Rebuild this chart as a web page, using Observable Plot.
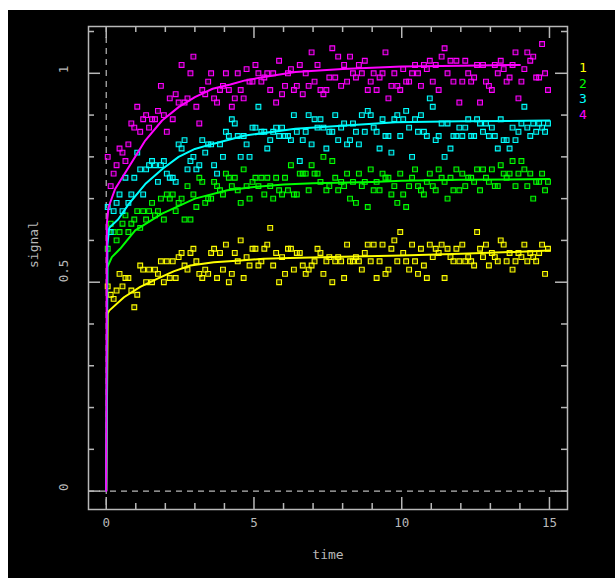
<!DOCTYPE html>
<html><head><meta charset="utf-8">
<script src="https://cdn.jsdelivr.net/npm/d3@7"></script>
<script src="https://cdn.jsdelivr.net/npm/@observablehq/plot@0.6"></script>
<style>
html,body{margin:0;padding:0;background:#fff;}
#wrap{position:absolute;left:8px;top:10px;width:607px;height:568px;background:#000;}
#wrap svg{display:block;}
.lg{position:absolute;left:571px;font-family:"DejaVu Sans Mono",monospace;font-size:13px;line-height:13px;}
</style></head><body>
<div id="wrap"></div>
<script>
const time = [
0.05,0.15,0.25,0.35,0.45,0.55,0.65,0.75,0.85,0.95,
1.05,1.15,1.25,1.35,1.45,1.55,1.65,1.75,1.85,1.95,
2.05,2.15,2.25,2.35,2.45,2.55,2.65,2.75,2.85,2.95,
3.05,3.15,3.25,3.35,3.45,3.55,3.65,3.75,3.85,3.95,
4.05,4.15,4.25,4.35,4.45,4.55,4.65,4.75,4.85,4.95,
5.05,5.15,5.25,5.35,5.45,5.55,5.65,5.75,5.85,5.95,
6.05,6.15,6.25,6.35,6.45,6.55,6.65,6.75,6.85,6.95,
7.05,7.15,7.25,7.35,7.45,7.55,7.65,7.75,7.85,7.95,
8.05,8.15,8.25,8.35,8.45,8.55,8.65,8.75,8.85,8.95,
9.05,9.15,9.25,9.35,9.45,9.55,9.65,9.75,9.85,9.95,
10.05,10.15,10.25,10.35,10.45,10.55,10.65,10.75,10.85,10.95,
11.05,11.15,11.25,11.35,11.45,11.55,11.65,11.75,11.85,11.95,
12.05,12.15,12.25,12.35,12.45,12.55,12.65,12.75,12.85,12.95,
13.05,13.15,13.25,13.35,13.45,13.55,13.65,13.75,13.85,13.95,
14.05,14.15,14.25,14.35,14.45,14.55,14.65,14.75,14.85,14.95];

const signal1 = [
0.49,0.47,0.46,0.48,0.52,0.49,0.51,0.51,0.48,0.44,
0.47,0.54,0.53,0.50,0.53,0.50,0.53,0.52,0.55,0.50,
0.55,0.51,0.55,0.51,0.56,0.57,0.54,0.53,0.57,0.58,
0.55,0.52,0.51,0.53,0.52,0.57,0.58,0.51,0.57,0.53,
0.59,0.50,0.52,0.57,0.55,0.60,0.51,0.56,0.54,0.58,
0.58,0.54,0.55,0.58,0.59,0.63,0.54,0.57,0.50,0.56,
0.52,0.58,0.58,0.53,0.57,0.57,0.54,0.52,0.53,0.54,
0.55,0.58,0.57,0.52,0.55,0.56,0.50,0.55,0.56,0.55,
0.51,0.59,0.55,0.55,0.56,0.55,0.53,0.57,0.59,0.55,
0.59,0.51,0.55,0.59,0.52,0.53,0.58,0.60,0.55,0.62,
0.57,0.55,0.53,0.59,0.55,0.52,0.58,0.54,0.51,0.59,
0.56,0.58,0.57,0.59,0.51,0.58,0.56,0.55,0.58,0.55,
0.59,0.55,0.56,0.55,0.54,0.62,0.58,0.56,0.59,0.54,
0.57,0.56,0.55,0.60,0.59,0.55,0.57,0.53,0.55,0.57,
0.56,0.59,0.55,0.57,0.56,0.55,0.57,0.59,0.52,0.58];

const signal2 = [
0.58,0.64,0.62,0.60,0.62,0.64,0.66,0.62,0.64,0.65,
0.67,0.63,0.67,0.65,0.67,0.69,0.66,0.67,0.70,0.65,
0.71,0.70,0.71,0.67,0.69,0.70,0.65,0.73,0.65,0.71,
0.68,0.75,0.74,0.69,0.70,0.70,0.74,0.73,0.72,0.71,
0.76,0.75,0.73,0.75,0.72,0.69,0.77,0.73,0.70,0.74,
0.75,0.73,0.75,0.71,0.75,0.73,0.70,0.75,0.72,0.71,
0.75,0.72,0.78,0.71,0.71,0.76,0.76,0.76,0.72,0.78,
0.76,0.76,0.74,0.80,0.72,0.73,0.79,0.75,0.72,0.74,
0.73,0.76,0.70,0.74,0.69,0.76,0.73,0.74,0.68,0.77,
0.72,0.74,0.72,0.76,0.75,0.75,0.71,0.73,0.69,0.76,
0.71,0.68,0.73,0.75,0.77,0.73,0.72,0.71,0.74,0.76,
0.73,0.72,0.77,0.75,0.74,0.70,0.75,0.72,0.77,0.72,
0.76,0.73,0.75,0.75,0.74,0.77,0.72,0.77,0.75,0.74,
0.77,0.73,0.73,0.78,0.76,0.75,0.76,0.79,0.73,0.76,
0.79,0.77,0.73,0.76,0.70,0.74,0.74,0.76,0.72,0.74];

const signal3 = [
0.68,0.62,0.67,0.69,0.71,0.67,0.75,0.69,0.71,0.75,
0.81,0.77,0.71,0.77,0.78,0.79,0.78,0.74,0.78,0.79,
0.76,0.75,0.75,0.74,0.83,0.82,0.84,0.77,0.79,0.80,
0.77,0.78,0.84,0.81,0.83,0.83,0.78,0.76,0.83,0.80,
0.86,0.85,0.89,0.88,0.85,0.80,0.85,0.83,0.80,0.87,
0.87,0.92,0.86,0.86,0.82,0.84,0.86,0.87,0.85,0.87,
0.85,0.85,0.84,0.90,0.86,0.79,0.84,0.86,0.90,0.83,
0.89,0.87,0.89,0.87,0.82,0.86,0.86,0.90,0.84,0.87,
0.88,0.83,0.84,0.88,0.86,0.83,0.90,0.86,0.91,0.90,
0.87,0.86,0.82,0.89,0.85,0.85,0.81,0.89,0.90,0.85,
0.89,0.91,0.87,0.80,0.89,0.86,0.90,0.86,0.85,0.94,
0.92,0.84,0.85,0.88,0.80,0.88,0.82,0.85,0.85,0.87,
0.85,0.87,0.89,0.85,0.85,0.89,0.88,0.86,0.88,0.85,
0.87,0.85,0.82,0.89,0.84,0.84,0.82,0.87,0.84,0.86,
0.88,0.92,0.87,0.85,0.88,0.86,0.88,0.87,0.86,0.88];

const signal4 = [
0.80,0.73,0.76,0.78,0.82,0.81,0.79,0.83,0.88,0.87,
0.92,0.86,0.89,0.90,0.87,0.89,0.89,0.91,0.97,0.90,
0.86,0.94,0.89,0.95,0.93,1.02,0.93,0.94,1.00,1.04,
0.92,0.88,0.96,0.95,0.98,1.00,0.94,0.93,0.96,0.97,
1.00,0.96,0.92,0.94,1.00,0.96,0.94,1.01,0.98,0.98,
1.02,1.00,0.98,0.99,1.00,0.96,1.00,0.93,1.03,0.95,
0.97,1.00,1.01,0.96,0.97,1.02,0.95,1.00,0.97,1.05,
0.98,1.02,0.96,0.95,0.96,0.99,1.06,0.99,1.04,0.97,
1.02,0.98,1.04,1.00,0.99,1.02,1.00,1.03,0.96,0.98,
1.00,0.96,0.99,1.00,1.05,0.94,0.97,1.00,0.97,0.96,
1.01,0.98,0.98,1.00,1.02,1.00,0.97,1.02,1.01,1.03,
0.98,1.02,0.96,1.04,1.06,1.00,1.03,0.98,1.03,0.93,
0.98,1.03,1.00,0.98,0.99,1.02,0.93,1.02,0.98,0.97,
0.96,1.02,1.00,1.03,1.01,0.98,0.99,1.02,1.05,0.94,
0.98,1.01,1.05,1.03,1.04,0.99,0.99,1.07,1.00,0.96];

// fitted curves
const fitTime1 = [0,0.05,0.1,0.6,1.15,1.72,2.28,2.85,3.64,4.54,5.33,6.2,8,10,12,14,15];
const fit1 =     [0,0.425,0.432,0.464,0.489,0.508,0.526,0.54,0.548,0.552,0.556,0.558,0.561,0.564,0.568,0.573,0.576];
const fitTime2 = [0,0.04,0.19,0.47,0.98,1.89,3,4.1,5,6,7,9,10,12,15];
const fit2 =     [0,0.536,0.56,0.58,0.624,0.664,0.70,0.72,0.728,0.734,0.737,0.74,0.743,0.745,0.747];
const fitTime3 = [0,0.04,0.1,0.4,0.76,1.32,1.9,2.45,3,3.6,4.7,6.4,8.1,9.8,12,15];
const fit3 =     [0,0.59,0.63,0.65,0.687,0.735,0.771,0.80,0.819,0.831,0.851,0.867,0.875,0.883,0.885,0.887];
const fitTime4 = [0,0.02,0.08,0.3,0.76,1.32,1.89,2.45,3,3.6,4.2,4.7,5.5,6.4,8,10,12,14];
const fit4 =     [0,0.64,0.68,0.723,0.775,0.839,0.887,0.919,0.943,0.963,0.973,0.983,0.993,1.003,1.01,1.016,1.018,1.02];

const seriesNames = ["1","2","3","4"];
const colors = ["#ffff00","#00ff00","#00ffff","#ff00ff"];
const xMajor = [0,5,10,15];
const xMinor = [1,2,3,4,6,7,8,9,11,12,13,14];
const yMajor = [0,0.5,1];
const yMinor = [0.1,0.2,0.3,0.4,0.6,0.7,0.8,0.9,1.1];
const xLabel = "time", yLabel = "signal";

const signals = [signal1, signal2, signal3, signal4];
const fitTimes = [fitTime1, fitTime2, fitTime3, fitTime4];
const fits = [fit1, fit2, fit3, fit4];

const W = 607, H = 568, mL = 80, mR = 48, mT = 16, mB = 69;
const fw = W - mL - mR, fh = H - mT - mB;
const ax = "#b8b8b8";
const font = "DejaVu Sans Mono";

const marks = [
  Plot.ruleY([0], {stroke: ax, strokeDasharray: "6,5", strokeWidth: 1.2}),
  Plot.ruleX([0], {stroke: ax, strokeDasharray: "6,5", strokeWidth: 1.2})
];
signals.forEach((s, i) => {
  const pts = time.map((t, j) => ({t, v: s[j]}));
  marks.push(Plot.dot(pts, {x: "t", y: "v", symbol: "square", r: 2.7, stroke: colors[i], strokeWidth: 1.1, fill: colors[i], fillOpacity: 0.18}));
  const cv = fitTimes[i].map((t, j) => ({t, v: fits[i][j]}));
  marks.push(Plot.line(cv, {x: "t", y: "v", stroke: colors[i], strokeWidth: 2}));
});
marks.push(
  Plot.frame({stroke: ax, strokeWidth: 1.5}),
  Plot.tickX(xMajor, {x: d => d, stroke: ax, strokeWidth: 1.5, insetTop: fh - 12}),
  Plot.tickX(xMinor, {x: d => d, stroke: ax, strokeWidth: 1.5, insetTop: fh - 6}),
  Plot.tickX(xMajor, {x: d => d, stroke: ax, strokeWidth: 1.5, insetBottom: fh - 12}),
  Plot.tickX(xMinor, {x: d => d, stroke: ax, strokeWidth: 1.5, insetBottom: fh - 6}),
  Plot.tickY(yMajor, {y: d => d, stroke: ax, strokeWidth: 1.5, insetRight: fw - 12}),
  Plot.tickY(yMinor, {y: d => d, stroke: ax, strokeWidth: 1.5, insetRight: fw - 6}),
  Plot.tickY(yMajor, {y: d => d, stroke: ax, strokeWidth: 1.5, insetLeft: fw - 12}),
  Plot.tickY(yMinor, {y: d => d, stroke: ax, strokeWidth: 1.5, insetLeft: fw - 6}),
  Plot.text(xMajor, {x: d => d, text: d => String(d), frameAnchor: "bottom", dy: 17, fill: ax, fontSize: 12.5, fontFamily: font}),
  Plot.text(yMajor, {y: d => d, text: d => String(d), frameAnchor: "left", dx: -25, rotate: -90, fill: ax, fontSize: 12.5, fontFamily: font}),
  Plot.text([xLabel], {frameAnchor: "bottom", dy: 49, fill: ax, fontSize: 13, fontFamily: font}),
  Plot.text([yLabel], {frameAnchor: "left", dx: -55, rotate: -90, fill: ax, fontSize: 13, fontFamily: font})
);

const chart = Plot.plot({
  width: W, height: H,
  marginLeft: mL, marginRight: mR, marginTop: mT, marginBottom: mB,
  x: {domain: [-0.6, 15.61], axis: null},
  y: {domain: [-0.044, 1.112], axis: null},
  style: {background: "#000", overflow: "visible"},
  marks
});
const wrap = document.getElementById("wrap");
wrap.appendChild(chart);
const legendTops = [51, 66.5, 82, 97.5];
seriesNames.forEach((n, i) => {
  const d = document.createElement("div");
  d.className = "lg";
  d.style.top = legendTops[i] + "px";
  d.style.color = colors[i];
  d.textContent = n;
  wrap.appendChild(d);
});
</script>
</body></html>
